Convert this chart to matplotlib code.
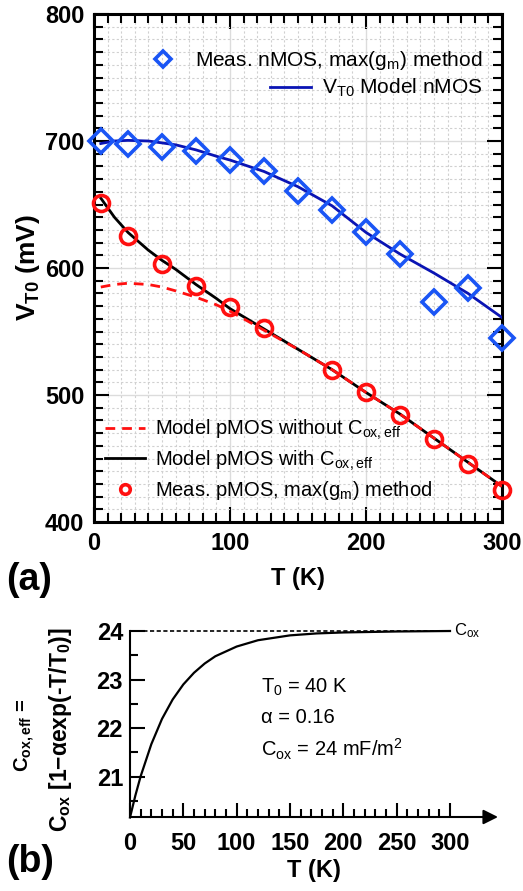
import numpy as np
import matplotlib
matplotlib.use('Agg')
from matplotlib import pyplot as plt
from matplotlib.ticker import MultipleLocator

plt.rcParams['font.family'] = ['Liberation Sans', 'DejaVu Sans']
plt.rcParams['mathtext.fontset'] = 'custom'
plt.rcParams['mathtext.rm'] = 'Liberation Sans'
plt.rcParams['mathtext.it'] = 'Liberation Sans:italic'
plt.rcParams['mathtext.bf'] = 'Liberation Sans:bold'
plt.rcParams['mathtext.default'] = 'regular'

# (a) measured threshold voltage, nMOS
T_n = [5, 25, 50, 75, 100, 125, 150, 175, 200, 225, 250, 275, 300]
V_n = [700, 698, 695, 692, 685, 676, 661, 646, 628, 611, 573, 584, 545]
# (a) measured threshold voltage, pMOS (no point at 150 K)
T_p = [5, 25, 50, 75, 100, 125, 175, 200, 225, 250, 275, 300]
V_p = [651, 625, 603, 586, 569, 553, 520, 502, 484, 465, 446, 425]

# model curves
T_mod = [5, 15, 25, 40, 50, 60, 75, 90, 100, 125, 150, 175, 200, 225, 250, 275, 300]
V_mod_n = [698, 700, 700.5, 700, 698.5, 697, 693, 688, 685, 676, 664, 649,
           628, 611, 596, 580, 561]
V_mod_p = [655, 640, 628, 614, 606, 599, 587, 576, 568, 552, 536, 520,
           502, 485, 466, 447, 428]
V_mod_p_nocox = [585, 587, 588, 587, 585, 582, 577, 571, 566, 551, 536, 520,
                 502, 485, 466, 447, 428]

# (b) effective oxide capacitance
T_cox = [0, 5, 10, 20, 30, 40, 50, 60, 70, 80, 100, 120, 150, 175, 200, 250, 300]
C_eff = [20.16, 20.61, 21.01, 21.67, 22.19, 22.59, 22.90, 23.14, 23.33, 23.48,
         23.68, 23.81, 23.91, 23.95, 23.97, 23.99, 24.00]
Cox = 24

blue = '#1a55f5'
dblue = '#0a14b4'
red = '#ff1010'

fig = plt.figure(figsize=(5.23, 8.91), dpi=100)

# ---------------- panel (a)
ax = fig.add_axes([94/523, 1-522/891, 408/523, 508/891])
ax.set_xlim(0, 300)
ax.set_ylim(400, 800)
ax.xaxis.set_major_locator(MultipleLocator(100))
ax.xaxis.set_minor_locator(MultipleLocator(10))
ax.yaxis.set_major_locator(MultipleLocator(100))
ax.yaxis.set_minor_locator(MultipleLocator(10))
ax.grid(which='major', color='#dcdcdc', lw=1.0, ls='-')
ax.grid(which='minor', color='#d0d0d0', lw=0.8, ls=(0, (2, 2)))
ax.set_axisbelow(True)
for s in ax.spines.values():
    s.set_linewidth(2.2)
ax.tick_params(which='both', direction='in', top=True, right=True, width=1.5)
ax.tick_params(which='major', length=11, labelsize=17, pad=7)
ax.tick_params(which='minor', length=6.5)
for lab in ax.get_xticklabels() + ax.get_yticklabels():
    lab.set_fontweight('bold')

ln_n, = ax.plot(T_mod, V_mod_n, color=dblue, lw=2.0, zorder=3)
ln_p, = ax.plot(T_mod, V_mod_p, color='black', lw=2.0, zorder=3)
ln_p0, = ax.plot(T_mod, V_mod_p_nocox, color=red, lw=2.0, ls=(0, (3.5, 2.5)), zorder=4)
mk_n, = ax.plot(T_n, V_n, ls='none', marker='D', ms=12.5, mfc='none', mec=blue,
                mew=2.6, zorder=5, clip_on=False)
mk_p, = ax.plot(T_p, V_p, ls='none', marker='o', ms=11.5, mfc='none', mec=red,
                mew=2.6, zorder=5, clip_on=False)

ax.set_xlabel('T (K)', fontsize=17, fontweight='bold', labelpad=9)
ax.set_ylabel('V$_{T0}$ (mV)', fontsize=19, fontweight='bold', labelpad=2)

lkw = dict(frameon=False, fontsize=15, borderpad=0, borderaxespad=0,
           handlelength=2.0, handletextpad=0.5)
leg1 = ax.legend([mk_n], ['Meas. nMOS, max(g$_m$) method'], loc='center right',
                 bbox_to_anchor=(0.951, 0.9075), markerscale=0.65, **lkw)
ax.add_artist(leg1)
leg2 = ax.legend([ln_n], ['V$_{T0}$ Model nMOS'], loc='center right',
                 bbox_to_anchor=(0.951, 0.854), **lkw)
ax.add_artist(leg2)
lkw['fontsize'] = 14.5
ax.legend([ln_p0, ln_p, mk_p],
          ['Model pMOS without C$_{ox,eff}$', 'Model pMOS with C$_{ox,eff}$',
           'Meas. pMOS, max(g$_m$) method'],
          loc='center left', bbox_to_anchor=(0.027, 0.122), labelspacing=0.3,
          markerscale=0.6, **lkw)

fig.text(6/523, 1-580/891, '(a)', fontsize=27, fontweight='bold', va='center')

# ---------------- panel (b)
bx = fig.add_axes([130/523, 1-817/891, 368/523, 186/891])
bx.set_xlim(0, 345)
bx.set_ylim(20.17, 24.0)
bx.spines['top'].set_visible(False)
bx.spines['right'].set_visible(False)
bx.spines['bottom'].set_visible(False)
bx.spines['left'].set_linewidth(1.5)
bx.annotate('', xy=(1, 0), xytext=(0, 0), xycoords='axes fraction',
            arrowprops=dict(arrowstyle='-|>', lw=1.5, color='black',
                            mutation_scale=22, shrinkA=0, shrinkB=0))
bx.set_xticks(np.arange(0, 301, 50))
bx.set_xticks(np.arange(0, 301, 10), minor=True)
bx.set_yticks([21, 22, 23, 24])
bx.yaxis.set_minor_locator(MultipleLocator(0.5))
bx.tick_params(which='both', direction='in', width=1.5)
bx.tick_params(axis='x', which='major', length=10, labelsize=17, pad=11)
bx.tick_params(axis='x', which='minor', length=6)
bx.tick_params(axis='y', which='major', length=11, labelsize=17, pad=5)
bx.tick_params(axis='y', which='minor', length=6)
for lab in bx.get_xticklabels() + bx.get_yticklabels():
    lab.set_fontweight('bold')

bx.plot([0, 300], [Cox, Cox], color='black', lw=1.2, ls=(0, (2.5, 1.5)), clip_on=False)
bx.plot(T_cox, C_eff, color='black', lw=1.6, clip_on=False)
bx.text(304, Cox, 'C$_{ox}$', fontsize=12, va='center', ha='left')
bx.text(123, 22.83, 'T$_0$ = 40 K', fontsize=14.5, va='center')
bx.text(123, 22.21, 'α = 0.16', fontsize=14.5, va='center')
bx.text(123, 21.56, 'C$_{ox}$ = 24 mF/m$^2$', fontsize=14.5, va='center')

bx.set_xlabel('T (K)', fontsize=17, fontweight='bold', labelpad=3)
fig.text(25/523, 1-735/891, 'C$_{ox,eff}$ =', fontsize=14.5, fontweight='bold',
         rotation=90, ha='center', va='center')
fig.text(60/523, 1-730/891, 'C$_{ox}$ [1−αexp(-T/T$_0$)]', fontsize=16.5,
         fontweight='bold', rotation=90, ha='center', va='center')
fig.text(6/523, 1-862/891, '(b)', fontsize=27, fontweight='bold', va='center')

fig.savefig('out.png', dpi=100)
